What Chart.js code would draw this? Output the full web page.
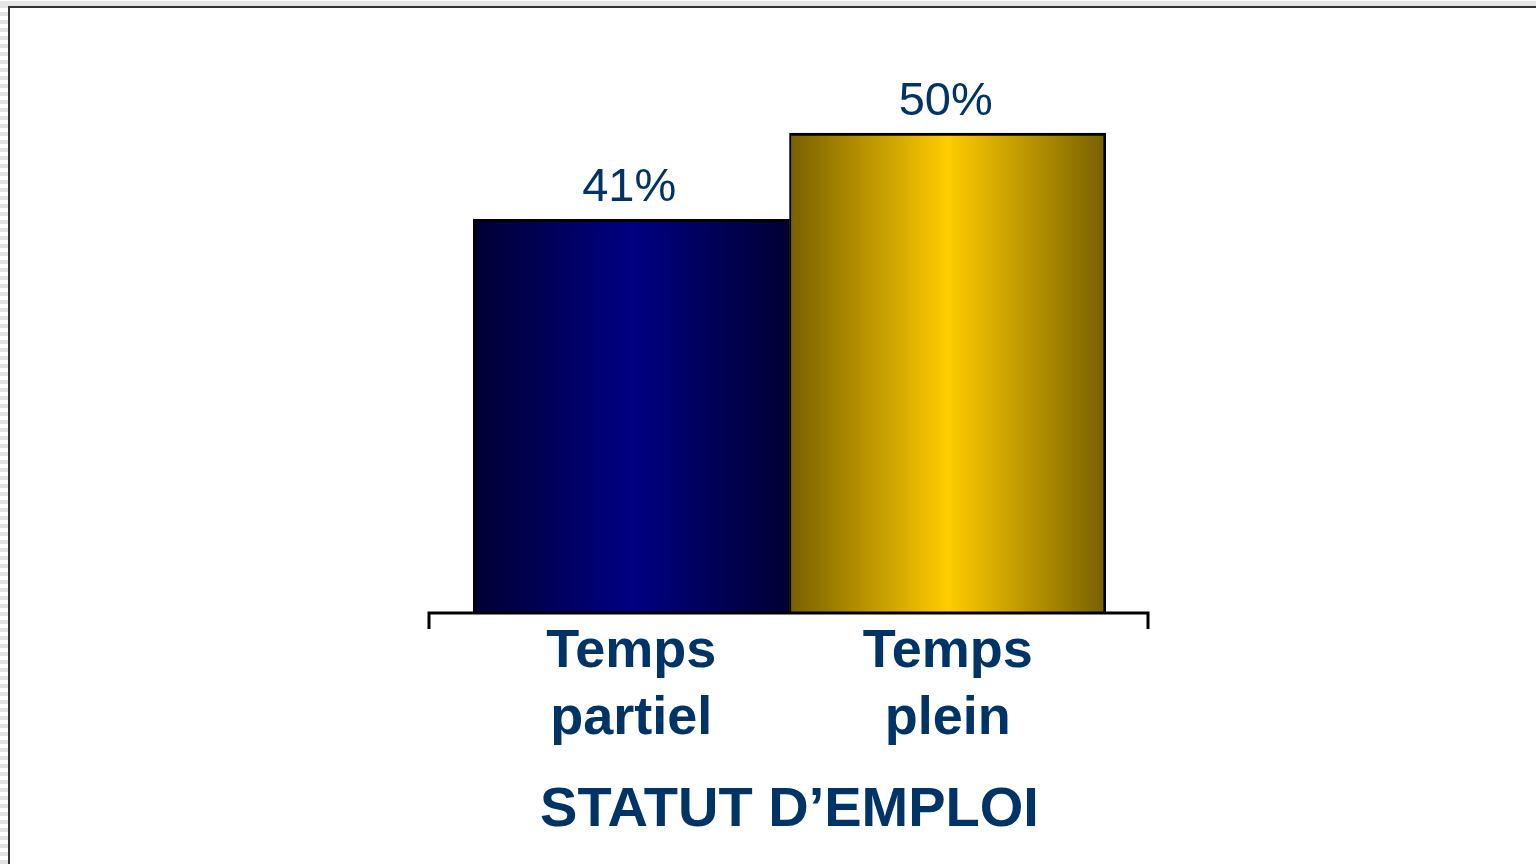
<!DOCTYPE html>
<html>
<head>
<meta charset="utf-8">
<script src="https://cdn.jsdelivr.net/npm/chart.js@4"></script>
<style>
  html, body { margin: 0; padding: 0; background: #fff; }
  #page { position: relative; width: 1536px; height: 864px; overflow: hidden; background: #fff; }
  #stripes { position: absolute; left: 0; top: 0; width: 8px; height: 864px;
    background: repeating-linear-gradient(to bottom, #fff 0px, #fff 4px, #e2e2e2 4px, #e2e2e2 8px); }
  #topband { position: absolute; left: 0; top: 1px; width: 1536px; height: 5px; background: #e6e6e6; }
  #frame { position: absolute; left: 8px; top: 6px; width: 1530px; height: 860px;
    border-left: 2px solid #333; border-top: 2px solid #333; box-sizing: border-box; }
  #myChart { position: absolute; left: 0; top: 0; }
</style>
</head>
<body>
<div id="page">
  <div id="stripes"></div>
  <div id="topband"></div>
  <div id="frame"></div>
  <canvas id="myChart" width="1536" height="864"></canvas>
</div>
<script>
const categories = [['Temps', 'partiel'], ['Temps', 'plein']];
const shares = [41, 50];
const axisTitle = 'STATUT D\u2019EMPLOI';
const edgeColors = ['#000034', '#776000'];
const midColors = ['#000082', '#ffcc00'];

const textColor = '#003366';
const font = "'Liberation Sans', Arial, sans-serif";

function barGradient(ctx) {
  const chart = ctx.chart;
  const i = ctx.dataIndex;
  if (!chart.chartArea || i === undefined) return midColors[0];
  const area = chart.chartArea;
  const c = chart.scales.x.getPixelForValue(i);
  const half = (area.right - area.left) / shares.length / 2;
  const g = chart.ctx.createLinearGradient(c - half, 0, c + half, 0);
  g.addColorStop(0, edgeColors[i]);
  g.addColorStop(0.5, midColors[i]);
  g.addColorStop(1, edgeColors[i]);
  return g;
}

function barBorder(ctx) {
  // outer edges 3px, shared middle edge kept thin
  return ctx.dataIndex === 0
    ? { top: 3, left: 3, right: 2, bottom: 0 }
    : { top: 3, left: 2, right: 3, bottom: 0 };
}

// value labels + bracket-like baseline
const extras = {
  id: 'extras',
  afterDatasetsDraw(chart) {
    const c = chart.ctx;
    const a = chart.chartArea;
    c.save();
    c.strokeStyle = '#000';
    c.lineWidth = 3;
    c.beginPath();
    c.moveTo(a.left - 44, a.bottom + 16);
    c.lineTo(a.left - 44, a.bottom);
    c.lineTo(a.right + 42, a.bottom);
    c.lineTo(a.right + 42, a.bottom + 16);
    c.stroke();

    c.fillStyle = textColor;
    c.font = '47px ' + font;
    c.textAlign = 'center';
    c.textBaseline = 'alphabetic';
    chart.getDatasetMeta(0).data.forEach((bar, i) => {
      c.fillText(shares[i] + '%', bar.x - 2, bar.y - 18);
    });
    c.restore();
  }
};

new Chart(document.getElementById('myChart'), {
  type: 'bar',
  data: {
    labels: categories,
    datasets: [{
      data: shares,
      backgroundColor: barGradient,
      borderColor: '#000',
      borderWidth: barBorder,
      borderSkipped: false,
      categoryPercentage: 1,
      barPercentage: 1
    }]
  },
  options: {
    responsive: false,
    animation: false,
    layout: { padding: { left: 473, right: 430, top: 37, bottom: 0 } },
    plugins: { legend: { display: false }, tooltip: { enabled: false } },
    scales: {
      x: {
        grid: { display: false, drawTicks: false },
        border: { display: false },
        ticks: {
          color: textColor,
          padding: 6,
          font: { family: font, size: 54, weight: 'bold', lineHeight: 1.24 }
        },
        title: {
          display: true,
          text: axisTitle,
          color: textColor,
          font: { family: font, size: 56, weight: 'bold', lineHeight: 1.2 },
          padding: { top: 0, bottom: 20 }
        },
        afterFit(scale) { scale.height = 251; }
      },
      y: {
        display: false,
        min: 0,
        max: 60
      }
    }
  },
  plugins: [extras]
});
</script>
</body>
</html>
